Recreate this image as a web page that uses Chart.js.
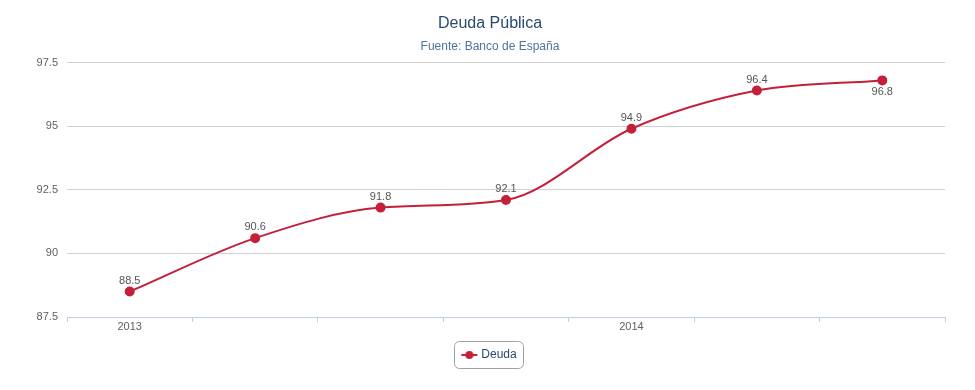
<!DOCTYPE html>
<html>
<head>
<meta charset="utf-8">
<script src="https://cdn.jsdelivr.net/npm/chart.js@4/dist/chart.umd.min.js"></script>
<style>
  html, body { margin: 0; padding: 0; background: #fff; }
  #wrap { width: 975px; height: 390px; }
</style>
</head>
<body>
<div id="wrap"><canvas id="grafico" width="975" height="390"></canvas></div>
<script>
const periodos = ['2013', '', '', '', '2014', '', ''];
const deuda = [88.5, 90.6, 91.8, 92.1, 94.9, 96.4, 96.8];
const ticksY = [87.5, 90, 92.5, 95, 97.5];

const ROJO = '#c5203a';
const FUENTE = "'Liberation Sans', Arial, sans-serif";

// simbolo de la leyenda: linea con punto
function simboloLeyenda() {
  const c = document.createElement('canvas');
  c.width = 18; c.height = 10;
  const ctx = c.getContext('2d');
  ctx.strokeStyle = ROJO;
  ctx.lineWidth = 2;
  ctx.beginPath();
  ctx.moveTo(1, 5); ctx.lineTo(17, 5);
  ctx.stroke();
  ctx.fillStyle = ROJO;
  ctx.beginPath();
  ctx.arc(9, 5, 4, 0, Math.PI * 2);
  ctx.fill();
  return c;
}

const etiquetasPlugin = {
  id: 'etiquetas',
  afterDatasetsDraw(chart) {
    const ctx = chart.ctx;
    const meta = chart.getDatasetMeta(0);
    ctx.save();
    ctx.font = '11px ' + FUENTE;
    ctx.fillStyle = '#555';
    ctx.textAlign = 'center';
    ctx.textBaseline = 'middle';
    meta.data.forEach((p, i) => {
      const abajo = i === meta.data.length - 1;
      ctx.fillText(deuda[i].toFixed(1), p.x, abajo ? p.y + 12 : p.y - 11);
    });
    ctx.restore();
  }
};

const marcoLeyenda = {
  id: 'marcoLeyenda',
  afterDraw(chart) {
    const cajas = chart.legend.legendHitBoxes;
    if (!cajas || !cajas.length) return;
    const b = cajas[0];
    const ctx = chart.ctx;
    ctx.save();
    ctx.strokeStyle = '#a0a0a0';
    ctx.lineWidth = 1;
    ctx.beginPath();
    ctx.roundRect(Math.round(b.left - 9) + 0.5, Math.round(b.top - 8) + 0.5, Math.round(b.width + 16), Math.round(b.height + 15), 5);
    ctx.stroke();
    ctx.restore();
  }
};

const ctx = document.getElementById('grafico').getContext('2d');
new Chart(ctx, {
  type: 'line',
  data: {
    labels: periodos,
    datasets: [{
      label: 'Deuda',
      data: deuda,
      borderColor: ROJO,
      backgroundColor: ROJO,
      borderWidth: 2,
      pointRadius: 4,
      pointHoverRadius: 4,
      pointBackgroundColor: ROJO,
      pointBorderColor: ROJO,
      cubicInterpolationMode: 'monotone',
      fill: false
    }]
  },
  options: {
    responsive: false,
    animation: false,
    layout: { padding: { left: 35, right: 30, top: 0, bottom: 19 } },
    plugins: {
      title: {
        display: true,
        text: 'Deuda Pública',
        color: '#274b6d',
        font: { size: 16, family: FUENTE, weight: 'normal', lineHeight: 1.2 },
        padding: { top: 14, bottom: 4 }
      },
      subtitle: {
        display: true,
        text: 'Fuente: Banco de España',
        color: '#4d759e',
        font: { size: 12, family: FUENTE, weight: 'normal', lineHeight: 1.2 },
        padding: { top: 2, bottom: 9 }
      },
      legend: {
        position: 'bottom',
        labels: {
          color: '#274b6d',
          font: { size: 12, family: FUENTE },
          usePointStyle: true,
          padding: 10,
          generateLabels(chart) {
            return [{
              text: 'Deuda',
              pointStyle: simboloLeyenda(),
              fillStyle: ROJO,
              strokeStyle: ROJO,
              fontColor: '#274b6d',
              lineWidth: 0,
              datasetIndex: 0,
              hidden: false
            }];
          }
        }
      },
      tooltip: { enabled: false }
    },
    scales: {
      x: {
        type: 'category',
        offset: true,
        grid: {
          offset: true,
          drawOnChartArea: false,
          drawTicks: true,
          tickLength: 5,
          color: '#c0d0e0'
        },
        border: { display: true, color: '#c0d0e0' },
        ticks: {
          color: '#606060',
          font: { size: 11, family: FUENTE },
          padding: -2,
          autoSkip: false,
          maxRotation: 0
        },
        afterFit(scale) { scale.height = 22; }
      },
      y: {
        min: 87.5,
        max: 97.5,
        afterBuildTicks(scale) { scale.ticks = ticksY.map(v => ({ value: v })); },
        grid: { color: '#d0d0d0', drawTicks: false },
        border: { display: false },
        ticks: {
          color: '#606060',
          font: { size: 11, family: FUENTE },
          padding: 9
        },
        afterFit(scale) { scale.width = 32; }
      }
    }
  },
  plugins: [etiquetasPlugin, marcoLeyenda]
});
</script>
</body>
</html>
